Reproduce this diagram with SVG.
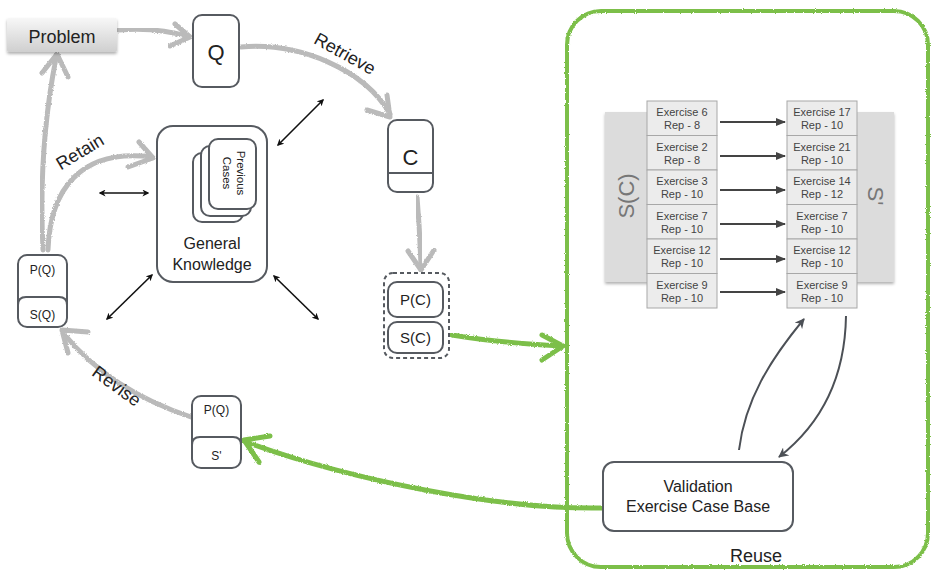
<svg xmlns="http://www.w3.org/2000/svg" width="932" height="571" viewBox="0 0 932 571">
  <style>
    .txt { font-family: "Liberation Sans", Arial, sans-serif; fill: #222; text-anchor: middle; }
    .box { fill: #fff; stroke: #565a60; stroke-width: 2; }
    .chalk { fill: none; stroke: #bababa; stroke-width: 5; stroke-linecap: round; stroke-linejoin: round; filter: url(#rough); }
    .green { fill: none; stroke: #7cbf4a; stroke-width: 5; stroke-linecap: round; stroke-linejoin: round; filter: url(#rough); }
    .frame { fill: none; stroke: #7cbf4a; stroke-width: 4; filter: url(#rough); }
    .dbl { fill: none; stroke: #111; stroke-width: 1.6; marker-start: url(#blk); marker-end: url(#blk); }
    .map { fill: none; stroke: #444; stroke-width: 2; marker-end: url(#dk); }
    .loop { fill: none; stroke: #4c5056; stroke-width: 2; marker-end: url(#lp); }
    .cell { fill: #ececec; stroke: #a8a8a8; stroke-width: 1; }
    .ctxt { font-family: "Liberation Sans", Arial, sans-serif; font-size: 11px; fill: #444; text-anchor: middle; }
    .panel { fill: #dcdcdc; }
  </style>
  <defs>
    <filter id="rough" x="-10%" y="-10%" width="120%" height="120%">
      <feTurbulence type="fractalNoise" baseFrequency="0.9" numOctaves="2" seed="3" result="n"/>
      <feDisplacementMap in="SourceGraphic" in2="n" scale="2.5" xChannelSelector="R" yChannelSelector="G"/>
    </filter>
    <filter id="shadow" x="-20%" y="-20%" width="140%" height="150%">
      <feDropShadow dx="0" dy="2" stdDeviation="1.5" flood-color="#000" flood-opacity="0.3"/>
    </filter>
    <linearGradient id="probGrad" x1="0" y1="0" x2="0" y2="1">
      <stop offset="0" stop-color="#f7f7f7"/>
      <stop offset="1" stop-color="#cfcfcf"/>
    </linearGradient>
    <marker id="blk" viewBox="0 0 10 10" refX="8" refY="5" markerWidth="7" markerHeight="7" orient="auto-start-reverse" markerUnits="userSpaceOnUse">
      <path d="M0,0 L10,5 L0,10 L3,5 Z" fill="#111"/>
    </marker>
    <marker id="dk" viewBox="0 0 10 10" refX="9" refY="5" markerWidth="10" markerHeight="10" orient="auto" markerUnits="userSpaceOnUse">
      <path d="M0,1 L10,5 L0,9 Z" fill="#444"/>
    </marker>
    <marker id="lp" viewBox="0 0 10 10" refX="9" refY="5" markerWidth="10" markerHeight="10" orient="auto" markerUnits="userSpaceOnUse">
      <path d="M0,0 L10,5 L0,10 L3,5 Z" fill="#4c5056"/>
    </marker>
  </defs>

  <!-- Reuse region outline -->
  <g id="reuse">
    <rect x="567" y="11" width="361" height="556" rx="34" class="frame"/>
    <text class="txt" x="756" y="562" font-size="18">Reuse</text>
  </g>

  <!-- connectors -->
  <g id="connectors">
    <!-- Problem -> Q -->
    <path class="chalk" d="M119,30 Q158,27 189,37"/>
    <path class="chalk" d="M175,24 L190,37 L170,46"/>
    <!-- Retrieve -->
    <path class="chalk" d="M241,47 C300,42 365,70 390,114"/>
    <path class="chalk" d="M387,95 L390,117 L367,110"/>
    <!-- C -> P(C)/S(C) -->
    <path class="chalk" d="M417,197 Q420,232 421,268"/>
    <path class="chalk" d="M408,251 L421,270 L434,250"/>
    <!-- Retain to Problem -->
    <path class="chalk" d="M43,250 Q38,150 56,58"/>
    <path class="chalk" d="M42,73 L57,54 L68,77"/>
    <!-- Retain to General Knowledge -->
    <path class="chalk" d="M48,250 C50,190 80,148 152,157"/>
    <path class="chalk" d="M139,142 L153,158 L128,167"/>
    <!-- Revise -->
    <path class="chalk" d="M191,417 C140,400 95,372 64,334"/>
    <path class="chalk" d="M88,332 L62,330 L68,353"/>
    <!-- S(C) -> Reuse -->
    <path class="green" d="M452,335 Q500,343 562,346"/>
    <path class="green" d="M542,335 L563,346 L542,360"/>
    <!-- Validation -> S' -->
    <path class="green" d="M603,508 C500,510 350,480 246,442"/>
    <path class="green" d="M270,436 L244,440 L259,462"/>

    <!-- knowledge exchanges -->
    <path class="dbl" d="M100,193 L148,193"/>
    <path class="dbl" d="M278,145 L323,100"/>
    <path class="dbl" d="M107,319 L152,275"/>
    <path class="dbl" d="M274,276 L318,319"/>

    <!-- validation loop -->
    <path class="loop" d="M739,450 C745,400 770,360 804,319"/>
    <path class="loop" d="M846,316 C845,380 820,425 779,457"/>
  </g>

  <!-- Problem -->
  <g id="problem">
    <rect x="7" y="18" width="110" height="34" rx="2" fill="url(#probGrad)" filter="url(#shadow)"/>
    <text class="txt" x="62" y="43" font-size="18">Problem</text>
  </g>

  <!-- Q -->
  <g id="q">
    <rect class="box" x="193" y="15" width="46" height="72" rx="9"/>
    <text class="txt" x="216" y="60" font-size="22">Q</text>
  </g>

  <!-- C -->
  <g id="c">
    <rect class="box" x="388" y="120" width="45" height="72" rx="9"/>
    <line x1="388" y1="173" x2="433" y2="173" stroke="#565a60" stroke-width="2"/>
    <text class="txt" x="410.5" y="165" font-size="22">C</text>
  </g>

  <!-- retrieved case -->
  <g id="pc-sc">
    <rect x="384" y="273" width="65" height="85" rx="9" fill="none" stroke="#565a60" stroke-width="2" stroke-dasharray="4 3"/>
    <rect class="box" x="388" y="282" width="55" height="35" rx="9"/>
    <text class="txt" x="415.5" y="305" font-size="15">P(C)</text>
    <rect class="box" x="388" y="322" width="55" height="31" rx="9"/>
    <text class="txt" x="415.5" y="343" font-size="15">S(C)</text>
  </g>

  <!-- General Knowledge -->
  <g id="general-knowledge">
    <rect class="box" x="157" y="126" width="110" height="156" rx="16"/>
    <rect class="box" x="193" y="153" width="50" height="69" rx="9"/>
    <rect class="box" x="201" y="146" width="50" height="70" rx="9"/>
    <rect class="box" x="209" y="139" width="47" height="70" rx="9"/>
    <text class="txt" font-size="11.5" transform="translate(237,173) rotate(90)">Previous</text>
    <text class="txt" font-size="11.5" transform="translate(223,173) rotate(90)">Cases</text>
    <text class="txt" x="212" y="249" font-size="16">General</text>
    <text class="txt" x="212" y="270" font-size="16">Knowledge</text>
  </g>

  <!-- solved case P(Q)/S(Q) -->
  <g id="pq-sq">
    <rect class="box" x="18" y="255" width="49" height="72" rx="9"/>
    <path d="M18,305 Q18,297 26,297 L59,297 Q67,297 67,305" fill="none" stroke="#565a60" stroke-width="2"/>
    <text class="txt" x="42.5" y="274" font-size="12">P(Q)</text>
    <text class="txt" x="42.5" y="319" font-size="12">S(Q)</text>
  </g>

  <!-- adapted case P(Q)/S' -->
  <g id="pq-s">
    <rect class="box" x="192" y="396" width="49" height="72" rx="9"/>
    <path d="M192,445 Q192,437 200,437 L233,437 Q241,437 241,445" fill="none" stroke="#565a60" stroke-width="2"/>
    <text class="txt" x="216.5" y="414" font-size="12">P(Q)</text>
    <text class="txt" x="216.5" y="460" font-size="12">S'</text>
  </g>

  <!-- step labels -->
  <g id="labels">
    <text class="txt" font-size="18" transform="translate(342,59) rotate(29)">Retrieve</text>
    <text class="txt" font-size="18" transform="translate(83,157) rotate(-31)">Retain</text>
    <text class="txt" font-size="18" transform="translate(113,391) rotate(36)">Revise</text>
  </g>

  <!-- exercise mapping S(C) -> S' -->
  <g id="sc-table">
    <rect class="panel" x="605" y="112" width="60" height="170" filter="url(#shadow)"/>
    <text font-family="Liberation Sans, Arial, sans-serif" font-size="22" fill="#777" text-anchor="middle" transform="translate(634,196) rotate(-90)">S(C)</text>
    <rect class="cell" x="647" y="101" width="70" height="34.5"/>
    <rect class="cell" x="647" y="135.5" width="70" height="34.5"/>
    <rect class="cell" x="647" y="170" width="70" height="34.5"/>
    <rect class="cell" x="647" y="204.5" width="70" height="34.5"/>
    <rect class="cell" x="647" y="239" width="70" height="34.5"/>
    <rect class="cell" x="647" y="273.5" width="70" height="34.5"/>
    <text class="ctxt" x="682" y="116">Exercise 6</text><text class="ctxt" x="682" y="129">Rep - 8</text>
    <text class="ctxt" x="682" y="150.5">Exercise 2</text><text class="ctxt" x="682" y="163.5">Rep - 8</text>
    <text class="ctxt" x="682" y="185">Exercise 3</text><text class="ctxt" x="682" y="198">Rep - 10</text>
    <text class="ctxt" x="682" y="219.5">Exercise 7</text><text class="ctxt" x="682" y="232.5">Rep - 10</text>
    <text class="ctxt" x="682" y="254">Exercise 12</text><text class="ctxt" x="682" y="267">Rep - 10</text>
    <text class="ctxt" x="682" y="288.5">Exercise 9</text><text class="ctxt" x="682" y="301.5">Rep - 10</text>
  </g>

  <g id="s-table">
    <rect class="panel" x="840" y="112" width="54" height="170" filter="url(#shadow)"/>
    <text font-family="Liberation Sans, Arial, sans-serif" font-size="22" fill="#777" text-anchor="middle" transform="translate(868,196) rotate(90)">S'</text>
    <rect class="cell" x="787" y="101" width="70" height="34.5"/>
    <rect class="cell" x="787" y="135.5" width="70" height="34.5"/>
    <rect class="cell" x="787" y="170" width="70" height="34.5"/>
    <rect class="cell" x="787" y="204.5" width="70" height="34.5"/>
    <rect class="cell" x="787" y="239" width="70" height="34.5"/>
    <rect class="cell" x="787" y="273.5" width="70" height="34.5"/>
    <text class="ctxt" x="822" y="116">Exercise 17</text><text class="ctxt" x="822" y="129">Rep - 10</text>
    <text class="ctxt" x="822" y="150.5">Exercise 21</text><text class="ctxt" x="822" y="163.5">Rep - 10</text>
    <text class="ctxt" x="822" y="185">Exercise 14</text><text class="ctxt" x="822" y="198">Rep - 12</text>
    <text class="ctxt" x="822" y="219.5">Exercise 7</text><text class="ctxt" x="822" y="232.5">Rep - 10</text>
    <text class="ctxt" x="822" y="254">Exercise 12</text><text class="ctxt" x="822" y="267">Rep - 10</text>
    <text class="ctxt" x="822" y="288.5">Exercise 9</text><text class="ctxt" x="822" y="301.5">Rep - 10</text>
  </g>

  <g id="mapping-arrows">
    <path class="map" d="M720,122 L785,122"/>
    <path class="map" d="M720,156 L785,156"/>
    <path class="map" d="M720,190 L785,190"/>
    <path class="map" d="M720,224 L785,224"/>
    <path class="map" d="M720,259 L785,259"/>
    <path class="map" d="M720,292 L785,292"/>
  </g>

  <!-- Validation -->
  <g id="validation">
    <rect class="box" x="603" y="462" width="190" height="69" rx="11"/>
    <text class="txt" x="698" y="492" font-size="16">Validation</text>
    <text class="txt" x="698" y="512" font-size="16">Exercise Case Base</text>
  </g>
</svg>
